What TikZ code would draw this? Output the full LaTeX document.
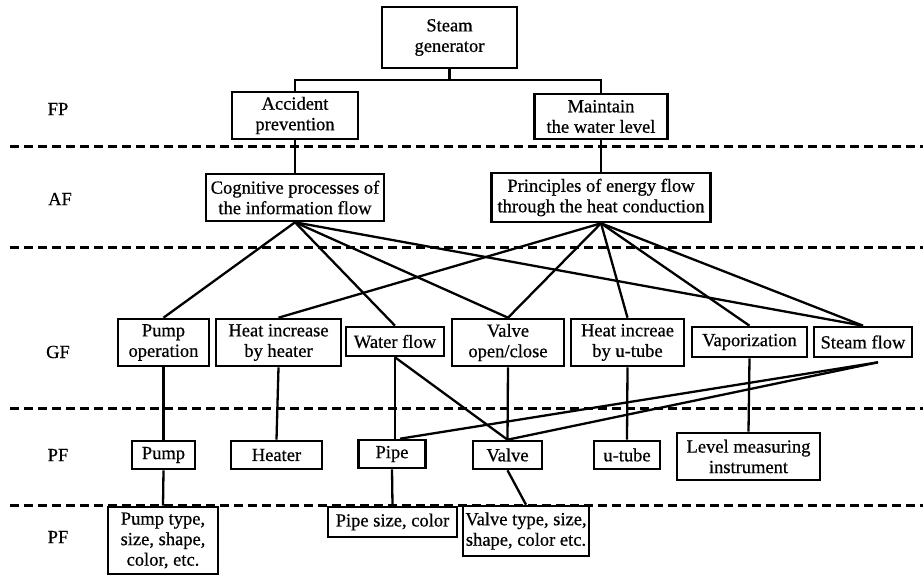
\documentclass[tikz,border=0pt]{standalone}
\usepackage{fontspec}
\setmainfont{Liberation Serif}[FakeBold=0.6]
\begin{document}
\begin{tikzpicture}[x=1pt,y=-1pt,
  box/.style={draw, line width=2.6pt, inner sep=0pt, align=center, font=\fontsize{18.5}{20.5}\selectfont},
  conn/.style={line width=2.3pt},
  sepline/.style={line width=3pt, dash pattern=on 9pt off 5pt},
  lbl/.style={font=\fontsize{18.5}{20.5}\selectfont}]
\useasboundingbox (0,0) rectangle (923,575);

% layer separators
\draw[sepline] (10,146) -- (923,146);
\draw[sepline] (10,247) -- (923,247);
\draw[sepline] (10,408) -- (923,408);
\draw[sepline] (10,505) -- (923,505);

% level labels
\node[lbl] (lFP) at (58,109) {FP};
\node[lbl] (lAF) at (60,199) {AF};
\node[lbl] (lGF) at (58,352) {GF};
\node[lbl] (lPF) at (58,455) {PF};
\node[lbl] (lPF2) at (58,537) {PF};

% top
\node[box, minimum width=135pt, minimum height=61pt] (SG) at (449.5,37.5) {Steam\\generator};
% FP
\node[box, minimum width=126pt, minimum height=47pt] (AP) at (295,115.5) {Accident\\prevention};
\node[box, minimum width=133pt, minimum height=45pt] (MW) at (601,116.5) {Maintain\\the water level};
% AF
\node[box, minimum width=178pt, minimum height=47pt] (CP) at (295,197.5) {Cognitive processes of\\the information flow};
\node[box, minimum width=219pt, minimum height=49pt] (PE) at (601,197.5) {Principles of energy flow\\through the heat conduction};
% GF
\node[box, minimum width=91pt, minimum height=47pt] (PO) at (163.5,342.5) {Pump\\operation};
\node[box, minimum width=125pt, minimum height=47pt] (HH) at (278.5,342.5) {Heat increase\\by heater};
\node[box, minimum width=98pt, minimum height=29pt] (WF) at (395,341.5) {Water flow};
\node[box, minimum width=112pt, minimum height=47pt] (VO) at (508,342.5) {Valve\\open/close};
\node[box, minimum width=113pt, minimum height=47pt] (HU) at (627.5,342.5) {Heat increae\\by u-tube};
\node[box, minimum width=115pt, minimum height=30pt] (VA) at (749.5,342) {Vaporization};
\node[box, minimum width=98pt, minimum height=30pt] (SF) at (863,342) {Steam flow};
% PF
\node[box, minimum width=63pt, minimum height=28pt] (PU) at (163.5,455) {Pump};
\node[box, minimum width=91pt, minimum height=28pt] (HE) at (276.5,455) {Heater};
\node[box, minimum width=67pt, minimum height=28pt] (PI) at (392,454) {Pipe};
\node[box, minimum width=69pt, minimum height=28pt] (VL) at (507.5,455) {Valve};
\node[box, minimum width=66pt, minimum height=28pt] (UT) at (627,455) {u-tube};
\node[box, minimum width=143pt, minimum height=47pt] (LM) at (748.5,456.5) {Level measuring\\instrument};
% PF (form)
\node[box, minimum width=110pt, minimum height=67pt] (PT) at (163,540.5) {Pump type,\\size, shape,\\color, etc.};
\node[box, minimum width=129pt, minimum height=30pt] (PS) at (392.5,522) {Pipe size, color};
\node[box, minimum width=126pt, minimum height=50pt] (VT) at (526,531) {Valve type, size,\\shape, color etc.};

% connectors
\coordinate (bus) at (0,80);
\draw[conn] (SG.south) -- (SG.south |- bus) -| (AP.north);
\draw[conn] (SG.south |- bus) -| (MW.north);
\draw[conn] (AP.south) -- (CP.north);
\draw[conn] (MW.south) -- (PE.north);

\draw[conn] (CP.south) -- (PO.north);
\draw[conn] (CP.south) -- (WF.north);
\draw[conn] (CP.south) -- (VO.north);
\draw[conn] (CP.south) -- (SF.north);

\draw[conn] (PE.south) -- (HH.north);
\draw[conn] (PE.south) -- (VO.north);
\draw[conn] (PE.south) -- (HU.north);
\draw[conn] (PE.south) -- (VA.north);
\draw[conn] (PE.south) -- (SF.north);

\draw[conn] (PO.south) -- (PU.north);
\draw[conn] (HH.south) -- (HE.north);
\draw[conn] (WF.south) -- (WF.south |- PI.north);
\draw[conn] (WF.south) -- (VL.north);
\draw[conn] (VO.south) -- (VL.north);
\draw[conn] (HU.south) -- (UT.north);
\draw[conn] (VA.south) -- (LM.north);
\draw[conn] ([xshift=15pt,yshift=-4pt]SF.south) -- ([xshift=8pt]PI.north);
\draw[conn] ([xshift=15pt,yshift=-4pt]SF.south) -- (VL.north);

\draw[conn] (PU.south) -- (PT.north);
\draw[conn] (PI.south) -- (PS.north);
\draw[conn] (VL.south) -- (VT.north);
\end{tikzpicture}
\end{document}
